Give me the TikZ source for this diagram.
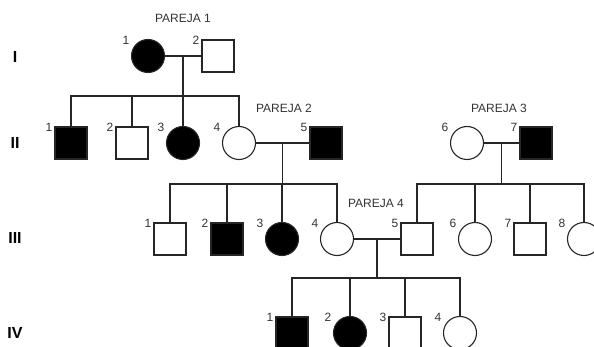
\documentclass[tikz,border=0pt]{standalone}
\usepackage{fontspec}
\setmainfont{Liberation Sans}
\usetikzlibrary{positioning, calc}

\begin{document}
\begin{tikzpicture}[x=1pt, y=-1pt, line width=1.1pt, draw=black!85, text=black!80, font=\fontsize{12}{14}\selectfont]
        \tikzset{male/.style={draw, rectangle, minimum size=32pt, inner sep=0pt},
                 female/.style={draw, circle, minimum size=33pt, inner sep=0pt},
                 ill/.style={fill=black},
                 idnum/.style={label={[inner sep=0pt, xshift=-22pt, yshift=16pt]center:#1}}}
        % Define attributes for the generation numbers
        \tikzstyle{gen}=[font=\fontsize{16}{18}\selectfont\bfseries, text=black]

        \clip (0,0) rectangle (594,347);

        \node[gen] (gI) at (15,57) {I};
        \node[gen] (gII) at (15,143) {II};
        \node[gen] (gIII) at (15,238) {III};
        \node[gen] (gIV) at (15,333) {IV};

        % generation I
        \node[female,ill,idnum=1] (I1) at (148,56) {};
        \node[male,idnum=2] (I2) at (218,56) {};
        \node (p1) at (183,18) {PAREJA 1};

        % generation II
        \node[male,ill,idnum=1] (II1) at (71,143) {};
        \node[male,idnum=2] (II2) at (132,143) {};
        \node[female,ill,idnum=3] (II3) at (183,143) {};
        \node[female,idnum=4] (II4) at (239,143) {};
        \node[male,ill,idnum=5] (II5) at (326,143) {};
        \node[female,idnum=6] (II6) at (467,143) {};
        \node[male,ill,idnum=7] (II7) at (536,143) {};
        \node (p2) at (284,108) {PAREJA 2};
        \node (p3) at (499,108) {PAREJA 3};

        % generation III
        \node[male,idnum=1] (III1) at (170,239) {};
        \node[male,ill,idnum=2] (III2) at (227,239) {};
        \node[female,ill,idnum=3] (III3) at (282,239) {};
        \node[female,idnum=4] (III4) at (337,239) {};
        \node[male,idnum=5] (III5) at (417,239) {};
        \node[female,idnum=6] (III6) at (475,239) {};
        \node[male,idnum=7] (III7) at (530,239) {};
        \node[female,idnum=8] (III8) at (584,239) {};
        \node (p4) at (376,203) {PAREJA 4};

        % generation IV
        \node[male,ill,idnum=1] (IV1) at (292,333) {};
        \node[female,ill,idnum=2] (IV2) at (350,333) {};
        \node[male,idnum=3] (IV3) at (405,333) {};
        \node[female,idnum=4] (IV4) at (460,333) {};

        \coordinate (c1) at ($(I1)!0.5!(I2)$);
        \coordinate (c2) at ($(II4)!0.5!(II5)$);
        \coordinate (c3) at ($(II6)!0.5!(II7)$);
        \coordinate (c4) at ($(III4)!0.5!(III5)$);
        \coordinate (s1) at (183,96);
        \coordinate (s2) at (283,184);
        \coordinate (s3) at (501,184);
        \coordinate (s4) at (376,278);

        \draw (I1) -- (I2);
        \draw (II4) -- (II5);
        \draw (II6) -- (II7);
        \draw (III4) -- (III5);

        \draw (c1) -- (c1 |- s1);
        \draw (c2) -- (c2 |- s2);
        \draw (c3) -- (c3 |- s3);
        \draw (c4) -- (c4 |- s4);

        \draw (II1) |- (II4 |- s1) -- (II4);
        \draw (III1) |- (III4 |- s2) -- (III4);
        \draw (III5) |- (III8 |- s3) -- (III8);
        \draw (IV1) |- (IV4 |- s4) -- (IV4);
        \foreach \k/\s in {II2/s1, II3/s1, III2/s2, III3/s2, III6/s3, III7/s3, IV2/s4, IV3/s4}
            \draw (\k) -- (\k |- \s);
    \end{tikzpicture}
\end{document}
